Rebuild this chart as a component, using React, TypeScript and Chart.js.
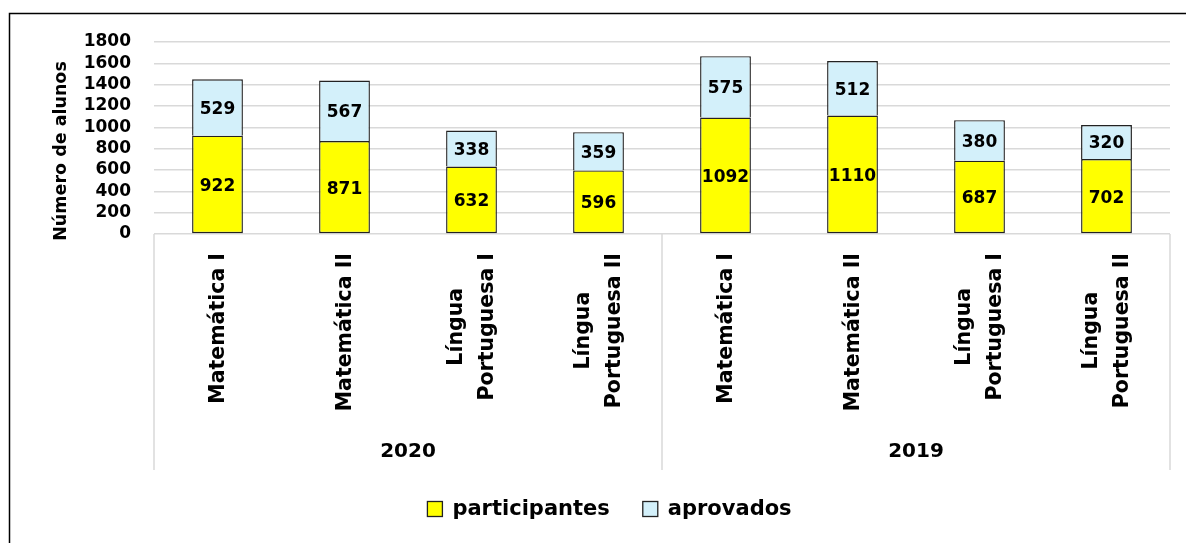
import React, { useEffect, useRef } from "react";
import { Chart, registerables } from "chart.js";

Chart.register(...registerables);

const categories: (string | string[])[] = [
  "Matemática I",
  "Matemática II",
  ["Língua", "Portuguesa I"],
  ["Língua", "Portuguesa II"],
  "Matemática I",
  "Matemática II",
  ["Língua", "Portuguesa I"],
  ["Língua", "Portuguesa II"],
];
const years = ["2020", "2019"];
const participantes = [922, 871, 632, 596, 1092, 1110, 687, 702];
const aprovados = [529, 567, 338, 359, 575, 512, 380, 320];
const yMax = 1800;
const yStep = 200;

const FONT = "'DejaVu Sans', sans-serif";
const YELLOW = "#FFFF00";
const BLUE = "#D3F0FA";
const GRID = "#D9D9D9";

const W = 1186;
const H = 543;

const customPlugin = {
  id: "custom",
  afterDatasetsDraw(chart: any) {
    const ctx = chart.ctx;
    ctx.save();
    ctx.font = `bold 17px ${FONT}`;
    ctx.fillStyle = "#000";
    ctx.textAlign = "center";
    ctx.textBaseline = "middle";
    chart.data.datasets.forEach((ds: any, di: number) => {
      const meta = chart.getDatasetMeta(di);
      meta.data.forEach((el: any, i: number) => {
        const y = (el.y + el.base) / 2;
        ctx.fillText(String(ds.data[i]), el.x, y + 2);
      });
    });
    ctx.restore();
  },
  afterDraw(chart: any) {
    const ctx = chart.ctx;
    const area = chart.chartArea;
    const xs = chart.scales.x;
    const boxBottom = 470;
    ctx.save();

    // category box separators
    ctx.strokeStyle = GRID;
    ctx.lineWidth = 1.5;
    const n = categories.length;
    const half = n / 2;
    const mid = (xs.getPixelForValue(half - 1) + xs.getPixelForValue(half)) / 2;
    [area.left, mid, area.right].forEach((x) => {
      ctx.beginPath();
      ctx.moveTo(x, area.bottom);
      ctx.lineTo(x, boxBottom);
      ctx.stroke();
    });

    // rotated category labels
    ctx.fillStyle = "#000";
    ctx.font = `bold 20.5px ${FONT}`;
    ctx.textAlign = "center";
    ctx.textBaseline = "middle";
    const labelTop = 253;
    const lineGap = 31;
    categories.forEach((cat, i) => {
      const lines = Array.isArray(cat) ? cat : [cat];
      const cx = xs.getPixelForValue(i);
      const maxW = Math.max(...lines.map((l) => ctx.measureText(l).width));
      const cy = labelTop + maxW / 2;
      lines.forEach((line, li) => {
        const lx = cx + (li - (lines.length - 1) / 2) * lineGap + 1;
        ctx.save();
        ctx.translate(lx, cy);
        ctx.rotate(-Math.PI / 2);
        ctx.fillText(line, 0, 0);
        ctx.restore();
      });
    });

    // year labels
    ctx.font = `bold 20px ${FONT}`;
    ctx.fillText(years[0], (area.left + mid) / 2, 452);
    ctx.fillText(years[1], (mid + area.right) / 2, 452);

    // y-axis title
    ctx.font = `bold 17.5px ${FONT}`;
    ctx.save();
    ctx.translate(61, 151);
    ctx.rotate(-Math.PI / 2);
    ctx.fillText("Número de alunos", 0, 0);
    ctx.restore();

    // legend
    ctx.font = `bold 21px ${FONT}`;
    const items = chart.data.datasets.map((ds: any) => ({
      label: ds.label,
      color: ds.backgroundColor,
      w: ctx.measureText(ds.label).width,
    }));
    const box = 15;
    const boxGap = 10;
    const itemGap = 33;
    const total =
      items.reduce((s: number, it: any) => s + box + boxGap + it.w, 0) +
      itemGap * (items.length - 1);
    let lx = 609.5 - total / 2;
    const ly = 509;
    ctx.textAlign = "left";
    items.forEach((it: any) => {
      ctx.fillStyle = it.color;
      ctx.fillRect(lx, ly - box / 2, box, box);
      ctx.strokeStyle = "#222";
      ctx.lineWidth = 1.3;
      ctx.strokeRect(lx, ly - box / 2, box, box);
      ctx.fillStyle = "#000";
      ctx.fillText(it.label, lx + box + boxGap, ly + 1);
      lx += box + boxGap + it.w + itemGap;
    });

    // outer frame
    ctx.strokeStyle = "#000";
    ctx.lineWidth = 1.5;
    ctx.strokeRect(9.5, 13.5, W + 50, H + 50);
    ctx.restore();
  },
};

export default function App() {
  const ref = useRef<HTMLCanvasElement | null>(null);

  useEffect(() => {
    if (!ref.current) return;
    const chart = new Chart(ref.current, {
      type: "bar",
      data: {
        labels: categories as any,
        datasets: [
          {
            label: "participantes",
            data: participantes,
            backgroundColor: YELLOW,
            borderColor: "#222",
            borderWidth: 1.4,
            borderSkipped: false,
          },
          {
            label: "aprovados",
            data: aprovados,
            backgroundColor: BLUE,
            borderColor: "#222",
            borderWidth: 1.4,
            borderSkipped: "bottom",
          },
        ],
      },
      options: {
        animation: false,
        responsive: true,
        maintainAspectRatio: false,
        layout: { padding: { top: 42, right: 16, bottom: 73, left: 0 } },
        datasets: {
          bar: { barPercentage: 0.4, categoryPercentage: 1 },
        },
        plugins: {
          legend: { display: false },
          tooltip: { enabled: false },
          title: { display: false },
        },
        scales: {
          x: {
            stacked: true,
            grid: { display: false },
            border: { display: false },
            ticks: { display: false },
            afterFit: (scale: any) => {
              scale.height = 236;
            },
          },
          y: {
            stacked: true,
            min: 0,
            max: yMax,
            grid: { color: GRID, lineWidth: 1.5, drawTicks: false },
            border: { display: false },
            ticks: {
              stepSize: yStep,
              autoSkip: false,
              padding: 23,
              color: "#000",
              font: { family: FONT, weight: "bold", size: 17, lineHeight: 1 },
              callback: (v: any) => String(v),
            },
            afterFit: (scale: any) => {
              scale.width = 154;
            },
          },
        },
      },
      plugins: [customPlugin],
    });
    return () => chart.destroy();
  }, []);

  return (
    <div
      style={{
        position: "fixed",
        left: 0,
        top: 0,
        width: W,
        height: H,
        background: "#fff",
      }}
    >
      <canvas ref={ref} />
    </div>
  );
}
